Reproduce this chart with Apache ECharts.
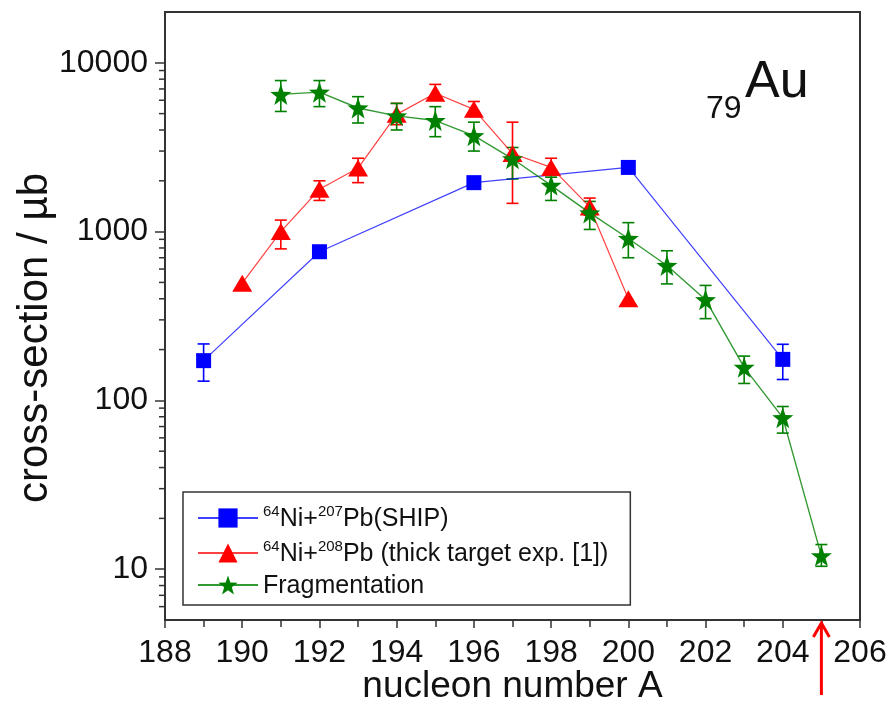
<!DOCTYPE html>
<html>
<head>
<meta charset="utf-8">
<script src="https://cdn.jsdelivr.net/npm/echarts@6/dist/echarts.min.js"></script>
<style>
  html, body { margin: 0; background: #fff; }
  #main { width: 890px; height: 707px; }
</style>
</head>
<body>
<div id="main"></div>
<script>
// nucleon number A ticks / values
var xTicks = [188, 190, 192, 194, 196, 198, 200, 202, 204, 206];
var yTicks = [10, 100, 1000, 10000];

// 64Ni + 207Pb (SHIP)
var shipA = [189, 192, 196, 200, 204];
var shipXs = [172, 760, 1950, 2400, 175];
var shipErr = [[189, 130, 216], [204, 133, 215]];

// 64Ni + 208Pb thick target
var thickA = [190, 191, 192, 193, 194, 195, 196, 197, 198, 199, 200];
var thickXs = [495, 1000, 1780, 2380, 4950, 6600, 5300, 2900, 2400, 1400, 400];
var thickErr = [
  [191, 790, 1170], [192, 1530, 2000], [193, 1950, 2720], [194, 4300, 5750],
  [195, 6000, 7450], [196, 4800, 5900], [197, 1470, 4450], [198, 2150, 2720],
  [199, 1250, 1580]
];

// fragmentation
var fragA = [191, 192, 193, 194, 195, 196, 197, 198, 199, 200, 201, 202, 203, 204, 205];
var fragXs = [6500, 6700, 5400, 4850, 4550, 3700, 2700, 1880, 1290, 910, 630, 395, 157, 79, 12];
var fragErr = [
  [191, 5150, 7850], [192, 5500, 7850], [193, 4400, 6300], [194, 4000, 5750],
  [195, 3650, 5500], [196, 3000, 4450], [197, 2050, 3150], [198, 1530, 2100],
  [199, 1030, 1510], [200, 700, 1130], [201, 490, 770], [202, 305, 480],
  [203, 126, 183], [204, 64, 92], [205, 10.4, 14]
];

// log minor ticks (2..9 of each decade, down to 5)
var minorTickVals = [6, 7, 8, 9,
  20, 30, 40, 50, 60, 70, 80, 90,
  200, 300, 400, 500, 600, 700, 800, 900,
  2000, 3000, 4000, 5000, 6000, 7000, 8000, 9000];

var FONT = 'Arial, "Liberation Sans", Helvetica, sans-serif';
var BLUE = '#0000ff', RED = '#ff0000', GREEN = '#008000';
var STAR = 'path://M0,-10 L2.35,-3.24 L9.51,-3.09 L3.8,1.24 L5.88,8.09 L0,4 L-5.88,8.09 L-3.8,1.24 L-9.51,-3.09 L-2.35,-3.24 Z';

function pairs(xs, ys) {
  return xs.map(function (x, i) { return [x, ys[i]]; });
}

function errorBars(color) {
  return function (params, api) {
    var x = api.value(0);
    var lo = api.coord([x, api.value(1)]);
    var hi = api.coord([x, api.value(2)]);
    var cap = 6;
    var st = { stroke: color, lineWidth: 1.6, fill: null };
    return {
      type: 'group',
      children: [
        { type: 'line', shape: { x1: lo[0], y1: lo[1], x2: hi[0], y2: hi[1] }, style: st },
        { type: 'line', shape: { x1: lo[0] - cap, y1: lo[1], x2: lo[0] + cap, y2: lo[1] }, style: st },
        { type: 'line', shape: { x1: hi[0] - cap, y1: hi[1], x2: hi[0] + cap, y2: hi[1] }, style: st }
      ]
    };
  };
}

var legendText = {
  ship: '{sup|64}{t|Ni+}{sup|207}{t|Pb(SHIP)}',
  thick: '{sup|64}{t|Ni+}{sup|208}{t|Pb (thick target exp. [1])}',
  frag: '{t|Fragmentation}'
};

var titleGraphics = [
  { type: 'text', left: 706, top: 93, style: { text: '79', font: '32px ' + FONT, fill: '#111' } },
  { type: 'text', left: 745, top: 57, style: { text: 'Au', font: '52px ' + FONT, fill: '#111' } }
];

var chart = echarts.init(document.getElementById('main'));
chart.setOption({
  animation: false,
  backgroundColor: '#fff',
  grid: {
    left: 165, top: 12, right: 30, bottom: 87,
    outerBoundsMode: 'none',
    show: true, borderColor: '#333', borderWidth: 2, backgroundColor: 'transparent'
  },
  legend: {
    data: ['ship', 'thick', 'frag'],
    orient: 'vertical',
    left: 183, top: 492,
    padding: [12, 22, 6, 14],
    itemWidth: 60, itemHeight: 24, itemGap: 7,
    borderColor: '#333', borderWidth: 1.5,
    backgroundColor: '#fff',
    selectedMode: false,
    formatter: function (name) { return legendText[name]; },
    textStyle: {
      fontFamily: FONT, color: '#111',
      rich: {
        t: { fontSize: 25, fontFamily: FONT, color: '#111', lineHeight: 28, verticalAlign: 'bottom' },
        sup: { fontSize: 15, fontFamily: FONT, color: '#111', lineHeight: 28, verticalAlign: 'top' }
      }
    }
  },
  xAxis: {
    type: 'value', min: 188, max: 206, interval: 2,
    name: 'nucleon number A', nameLocation: 'middle', nameGap: 48,
    nameMoveOverlap: false,
    nameTextStyle: { fontFamily: FONT, fontSize: 37, color: '#111' },
    axisLine: { lineStyle: { color: '#333', width: 2 } },
    axisTick: { length: 8, lineStyle: { color: '#333', width: 1.5 } },
    minorTick: { show: true, splitNumber: 2, length: 7, lineStyle: { color: '#333', width: 1.5 } },
    axisLabel: {
      fontFamily: FONT, fontSize: 32, color: '#111', margin: 17,
      formatter: function (v) { return xTicks.indexOf(v) >= 0 ? String(v) : ''; }
    },
    splitLine: { show: false }
  },
  yAxis: {
    type: 'log', logBase: 10, min: 5, max: 20000,
    name: 'cross-section / µb', nameLocation: 'middle', nameGap: 109,
    nameMoveOverlap: false,
    nameTextStyle: { fontFamily: FONT, fontSize: 42, color: '#111', padding: [0, 44, 0, 0] },
    axisLine: { lineStyle: { color: '#333', width: 2 } },
    axisTick: { length: 10, lineStyle: { color: '#333', width: 1.5 } },
    axisLabel: {
      fontFamily: FONT, fontSize: 32, color: '#111', margin: 17,
      showMinLabel: false, showMaxLabel: false,
      formatter: function (v) {
        var r = Math.round(v);
        return yTicks.indexOf(r) >= 0 ? String(r) : '';
      }
    },
    splitLine: { show: false }
  },
  graphic: titleGraphics,
  series: [
    {
      type: 'custom', name: 'minorTicks', silent: true, clip: false, z: 1,
      data: minorTickVals.map(function (v) { return [188, v]; }),
      encode: { x: 0, y: 1 },
      renderItem: function (params, api) {
        var p = api.coord([api.value(0), api.value(1)]);
        return { type: 'line', shape: { x1: p[0] - 6, y1: p[1], x2: p[0], y2: p[1] },
          style: { stroke: '#333', lineWidth: 1.5 } };
      }
    },
    { type: 'custom', name: 'shipErr', data: shipErr, encode: { x: 0, y: [1, 2] }, renderItem: errorBars(BLUE), z: 2, silent: true },
    { type: 'custom', name: 'thickErr', data: thickErr, encode: { x: 0, y: [1, 2] }, renderItem: errorBars(RED), z: 2, silent: true },
    { type: 'custom', name: 'fragErr', data: fragErr, encode: { x: 0, y: [1, 2] }, renderItem: errorBars(GREEN), z: 2, silent: true },
    {
      type: 'line', name: 'ship', data: pairs(shipA, shipXs), z: 3,
      symbol: 'rect', symbolSize: 15, color: BLUE,
      lineStyle: { color: BLUE, width: 1.2, opacity: 0.75 },
      itemStyle: { color: BLUE }
    },
    {
      type: 'line', name: 'thick', data: pairs(thickA, thickXs), z: 4,
      symbol: 'triangle', symbolSize: [20, 17], color: RED,
      lineStyle: { color: RED, width: 1.2, opacity: 0.75 },
      itemStyle: { color: RED }
    },
    {
      type: 'line', name: 'frag', data: pairs(fragA, fragXs), z: 5,
      symbol: STAR, symbolSize: 21, color: GREEN,
      lineStyle: { color: GREEN, width: 1.4, opacity: 0.8 },
      itemStyle: { color: GREEN }
    }
  ]
});

// red arrow marking A = 205 below the axis
var tip = chart.convertToPixel({ gridIndex: 0 }, [205, 5]);
chart.setOption({
  graphic: titleGraphics.concat([
    { type: 'polyline', shape: { points: [[tip[0] - 8, tip[1] + 17], [tip[0], tip[1] + 3], [tip[0] + 8, tip[1] + 17]] },
      style: { stroke: RED, lineWidth: 3, fill: null }, z: 10 },
    { type: 'line', shape: { x1: tip[0], y1: tip[1] + 3, x2: tip[0], y2: tip[1] + 75 },
      style: { stroke: RED, lineWidth: 3 }, z: 10 }
  ])
});
</script>
</body>
</html>
